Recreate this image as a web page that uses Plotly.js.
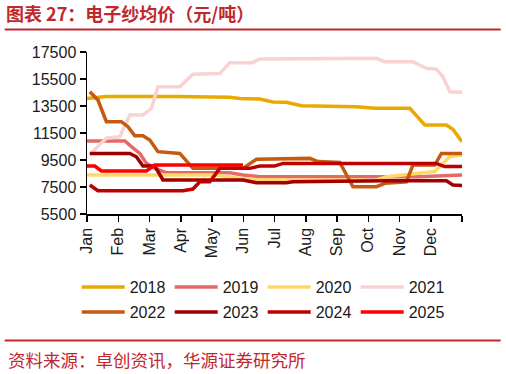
<!DOCTYPE html>
<html><head><meta charset="utf-8">
<script src="https://cdn.plot.ly/plotly-3.0.1.min.js"></script>
<style>html,body{margin:0;padding:0;background:#fff}#chart{width:506px;height:374px}</style>
</head><body><div id="chart"></div>
<script>
// x = position within the year in months (0 = 1 Jan, 12 = 31 Dec)
var months = ['Jan','Feb','Mar','Apr','May','Jun','Jul','Aug','Sep','Oct','Nov','Dec',''];
var years = ['2018','2019','2020','2021','2022','2023','2024','2025'];

var x2018 = [0, 0.62, 2.86, 4.57, 4.89, 5.53, 5.95, 6.38, 6.86, 8.62, 9.21, 10.33, 10.81, 11.5, 11.71, 12];
var y2018 = [14050, 14200, 14200, 14150, 14050, 14020, 13800, 13780, 13520, 13450, 13330, 13330, 12090, 12090, 11770, 10860];

var x2019 = [0, 1.21, 1.42, 1.69, 1.90, 2.17, 2.54, 4.57, 4.99, 5.53, 10.64, 11.61, 12];
var y2019 = [10910, 10910, 10490, 9990, 9250, 8880, 8560, 8560, 8390, 8265, 8265, 8390, 8390];

var x2020 = [0, 4.14, 4.8, 5.53, 8.73, 9.15, 9.58, 10.11, 10.65, 11.13, 11.34, 11.61, 12];
var y2020 = [8390, 8390, 8160, 8020, 8020, 7940, 8265, 8390, 8510, 8640, 9130, 9740, 9870];

var x2021 = [0.09, 0.30, 0.62, 1.05, 1.37, 1.79, 2.06, 2.27, 2.97, 3.39, 4.25, 4.57, 5.30, 5.53, 9.26, 9.53, 10.43, 10.86, 11.18, 11.39, 11.61, 12];
var y2021 = [9870, 10400, 11110, 11230, 12830, 12830, 13330, 14930, 14930, 15850, 15900, 16710, 16710, 16980, 17030, 16780, 16780, 16290, 16220, 15670, 14560, 14510];

var x2022 = [0.09, 0.35, 0.62, 1.10, 1.31, 1.53, 1.79, 2.01, 2.27, 2.65, 2.97, 3.39, 4.99, 5.42, 6.38, 7.13, 7.39, 8.09, 8.51, 9.26, 9.53, 10.22, 10.43, 11.13, 11.34, 12];
var y2022 = [14560, 13940, 12340, 12340, 11970, 11300, 11300, 10980, 10120, 10060, 9990, 8880, 8880, 9550, 9620, 9620, 9380, 9320, 7520, 7520, 7770, 7890, 9130, 9130, 9990, 9990];

var x2023 = [0.09, 1.37, 1.58, 1.79, 2.17, 2.43, 4.99, 5.42, 6.38, 6.59, 9.58, 11.5, 11.71, 12];
var y2023 = [9990, 9990, 9740, 9050, 9050, 8020, 8020, 7820, 7820, 7890, 7960, 7960, 7650, 7620];

var x2024 = [0.09, 0.35, 3.07, 3.39, 3.61, 3.93, 4.25, 5.21, 5.53, 6.0, 6.27, 11.18, 11.44, 12];
var y2024 = [7650, 7230, 7230, 7350, 7890, 7890, 8880, 8880, 9050, 9050, 9250, 9250, 9010, 9010];

var x2025 = [0, 0.25, 0.46, 1.90, 2.17, 4.99];
var y2025 = [9050, 9050, 8690, 8690, 9130, 9130];

var xs = [x2018, x2019, x2020, x2021, x2022, x2023, x2024, x2025];
var ys = [y2018, y2019, y2020, y2021, y2022, y2023, y2024, y2025];
var colors = ['#E8A900', '#E46A6A', '#FFD966', '#F9D2D2', '#C55A11', '#A00000', '#C00000', '#FF0000'];

var data = years.map(function (name, i) {
  return {
    x: xs[i], y: ys[i], name: name, type: 'scatter', mode: 'lines',
    line: {color: colors[i], width: 3.5},
    legend: i < 4 ? 'legend' : 'legend2',
    hoverinfo: 'skip'
  };
});

var L = 87.3, W = 375, T = 52, H = 162;
function px(X) { return (X - L) / W; }
function py(Y) { return (T + H - Y) / H; }

var legendCommon = {
  orientation: 'h', xanchor: 'left', yanchor: 'middle',
  font: {family: 'Liberation Sans, Arial, sans-serif', size: 16, color: '#1a1a1a'},
  itemwidth: 43, entrywidth: 35, entrywidthmode: 'pixels',
  traceorder: 'normal', bgcolor: 'rgba(0,0,0,0)', itemclick: false
};

var layout = {
  width: 506, height: 374,
  margin: {l: L, r: 506 - L - W, t: T, b: 374 - T - H, pad: 0},
  paper_bgcolor: '#ffffff', plot_bgcolor: '#ffffff',
  showlegend: true,
  font: {family: 'Liberation Sans, Arial, sans-serif', size: 16, color: '#1a1a1a'},
  title: {
    text: '<b>图表 27：电子纱均价（元/吨）</b>',
    font: {family: 'Noto Sans CJK SC, sans-serif', size: 18, color: '#C0282E'},
    xref: 'container', yref: 'container', x: 6 / 506, xanchor: 'left',
    y: 1 - 15 / 374, yanchor: 'middle'
  },
  xaxis: {
    range: [0, 12], tickmode: 'array', tickvals: months.map(function (m, i) { return i; }),
    ticktext: months, tickangle: -90, ticks: 'outside', ticklen: 6, tickwidth: 1.5,
    tickcolor: '#000', showline: true, linecolor: '#000', linewidth: 1.5,
    showgrid: false, zeroline: false, fixedrange: true,
    tickfont: {family: 'Liberation Sans, Arial, sans-serif', size: 16, color: '#1a1a1a'}
  },
  yaxis: {
    range: [5500, 17500], tickmode: 'linear', tick0: 5500, dtick: 2000, tickformat: 'd',
    ticks: 'outside', ticklen: 6, tickwidth: 1.5, tickcolor: '#000',
    showline: true, linecolor: '#000', linewidth: 1.5,
    showgrid: false, zeroline: false, fixedrange: true,
    tickfont: {family: 'Liberation Sans, Arial, sans-serif', size: 16, color: '#1a1a1a'}
  },
  legend: Object.assign({}, legendCommon, {x: px(77), y: py(287)}),
  legend2: Object.assign({}, legendCommon, {x: px(77), y: py(312)}),
  shapes: [
    {type: 'line', xref: 'paper', yref: 'paper', x0: px(5), x1: px(501), y0: py(29.5), y1: py(29.5),
     line: {color: '#C0282E', width: 2}},
    {type: 'line', xref: 'paper', yref: 'paper', x0: px(5), x1: px(501), y0: py(340.5), y1: py(340.5),
     line: {color: '#C0282E', width: 2}}
  ],
  annotations: [
    {text: '资料来源：卓创资讯，华源证券研究所', xref: 'paper', yref: 'paper',
     x: px(6), y: py(359), xanchor: 'left', yanchor: 'middle', showarrow: false,
     font: {family: 'Noto Sans CJK SC, sans-serif', size: 17.5, color: '#C0282E'}}
  ]
};

Plotly.newPlot('chart', data, layout, {staticPlot: true, displayModeBar: false});
</script>
</body></html>
